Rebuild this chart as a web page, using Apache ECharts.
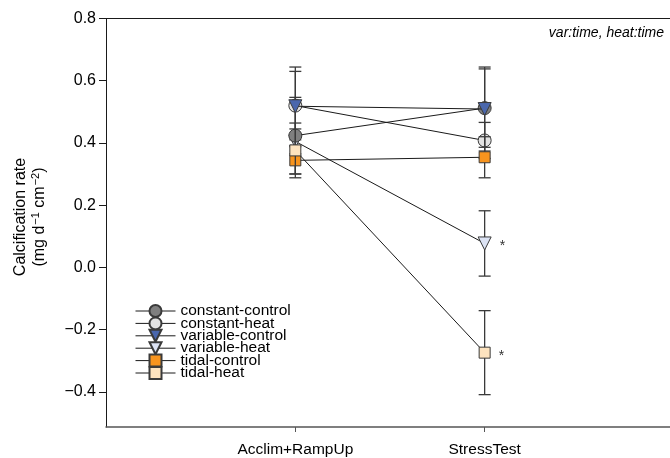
<!DOCTYPE html>
<html><head><meta charset="utf-8">
<script src="https://cdn.jsdelivr.net/npm/echarts@6/dist/echarts.min.js"></script>
<style>html,body{margin:0;padding:0;background:#fff}#c{width:670px;height:458px}</style>
</head><body><div id="c"></div>
<script>
// ---- data ----
const categories = ['Acclim+RampUp', 'StressTest'];
const seriesNames = ['constant-control', 'constant-heat', 'variable-control', 'variable-heat', 'tidal-control', 'tidal-heat'];
const constantControl = [0.4235, 0.512];
const constantHeat = [0.52, 0.408];
const variableControl = [0.518, 0.509];
const variableHeat = [0.405, 0.077];
const tidalControl = [0.344, 0.354];
const tidalHeat = [0.376, -0.274];
const errConstantControl = [0.123, 0.126];
const errConstantHeat = [0.11, 0.058];
const errVariableControl = [0.126, 0.135];
const errVariableHeat = [0.04, 0.105];
const errTidalControl = [0.044, 0.066];
const errTidalHeat = [0.088, 0.135];
const sigVariableHeat = ['', '*'];
const sigTidalHeat = ['', '*'];
const yTicks = [-0.4, -0.2, 0.0, 0.2, 0.4, 0.6, 0.8];
const annotation = 'var:time, heat:time';

// ---- build ----
const FONT = '"Liberation Sans", Arial, sans-serif';
const values = [constantControl, constantHeat, variableControl, variableHeat, tidalControl, tidalHeat];
const errors = [errConstantControl, errConstantHeat, errVariableControl, errVariableHeat, errTidalControl, errTidalHeat];
const sigs = [null, null, null, sigVariableHeat, null, sigTidalHeat];
const fills = ['#7f7f7f', '#e2e2e2', '#4a67ad', '#dce3f4', '#f7941e', '#fde3bf'];
const symbols = ['circle', 'circle', 'triangle', 'triangle', 'rect', 'rect'];
const rotates = [0, 0, 180, 180, 0, 0];
const sizes = [13, 13, 13, 13, 11, 11];
const drawOrder = [3, 1, 4, 2, 5, 6];

const lineSeries = seriesNames.map((name, s) => ({
  name, type: 'line', z: 2 * drawOrder[s] + 1,
  data: values[s].map((v, i) => [i + 1, v]),
  symbol: symbols[s], symbolSize: sizes[s], symbolRotate: rotates[s],
  showAllSymbol: true,
  lineStyle: { color: '#1a1a1a', width: 1 },
  itemStyle: { color: fills[s], borderColor: '#3a3a3a', borderWidth: 1, opacity: 1 },
  emphasis: { disabled: true },
  label: sigs[s] ? {
    show: true, position: 'right', distance: 8, offset: [0, 3],
    formatter: p => sigs[s][p.dataIndex], fontSize: 14, color: '#333', fontFamily: FONT
  } : { show: false },
  animation: false
}));

const errSeries = seriesNames.map((name, s) => ({
  type: 'custom', z: 2 * drawOrder[s], silent: true, animation: false,
  data: values[s].map((v, i) => [i + 1, v - errors[s][i], v + errors[s][i]]),
  renderItem: (params, api) => {
    const x = api.value(0);
    const lo = api.coord([x, api.value(1)]);
    const hi = api.coord([x, api.value(2)]);
    const w = 6;
    const st = { stroke: '#3a3a3a', lineWidth: 1.3 };
    return { type: 'group', children: [
      { type: 'line', shape: { x1: lo[0], y1: lo[1], x2: hi[0], y2: hi[1] }, style: st },
      { type: 'line', shape: { x1: lo[0] - w, y1: lo[1], x2: lo[0] + w, y2: lo[1] }, style: st },
      { type: 'line', shape: { x1: hi[0] - w, y1: hi[1], x2: hi[0] + w, y2: hi[1] }, style: st }
    ]};
  }
}));

const XMAX = 2.979;
const option = {
  animation: false,
  backgroundColor: '#fff',
  textStyle: { fontFamily: FONT },
  grid: { left: 106, top: 18.5, right: 0, bottom: 30.3, show: false },
  xAxis: [{
    type: 'value', min: 0, max: XMAX,
    splitLine: { show: false },
    axisLine: { show: true, onZero: false, lineStyle: { color: '#555', width: 1.5 } },
    axisTick: { show: true, length: 5, customValues: [1, 2], lineStyle: { color: '#555' } },
    axisLabel: { customValues: [1, 2], formatter: v => categories[v - 1] || '', fontSize: 15.5, color: '#000', margin: 15, fontFamily: FONT }
  }, {
    type: 'value', min: 0, max: XMAX, position: 'top',
    splitLine: { show: false },
    axisLine: { show: true, onZero: false, lineStyle: { color: '#1a1a1a', width: 1 } },
    axisTick: { show: false }, axisLabel: { show: false }
  }],
  yAxis: {
    type: 'value', min: -0.513, max: 0.8,
    splitLine: { show: false },
    axisLine: { show: true, onZero: false, lineStyle: { color: '#1a1a1a', width: 1 } },
    axisTick: { show: true, length: 7, customValues: yTicks, lineStyle: { color: '#1a1a1a' } },
    axisLabel: { customValues: yTicks, formatter: v => (v < 0 ? '\u2212' : '') + Math.abs(v).toFixed(1), fontSize: 16, color: '#000', margin: 10, fontFamily: FONT }
  },
  legend: {
    orient: 'vertical', left: 135, top: 303, padding: 0,
    itemWidth: 40, itemHeight: 15, itemGap: -3.6,
    data: seriesNames,
    lineStyle: { width: 1, color: '#1a1a1a' },
    textStyle: { fontSize: 15.5, color: '#000', fontFamily: FONT, lineHeight: 12 },
    selectedMode: false
  },
  graphic: [
    { type: 'text', x: 21, y: 217, rotation: Math.PI / 2,
      style: { text: 'Calcification rate', font: '16px ' + FONT, fill: '#000', align: 'center', verticalAlign: 'middle' } },
    { type: 'text', x: 40, y: 217, rotation: Math.PI / 2,
      style: { text: '{n|(mg d}{s|\u22121}{n| cm}{s|\u22122}{n|)}', align: 'center', verticalAlign: 'middle',
        rich: { n: { fontSize: 16, fontFamily: FONT, fill: '#000', lineHeight: 20 }, s: { fontSize: 11, fontFamily: FONT, fill: '#000', verticalAlign: 'top', lineHeight: 11, padding: [0, 0, 0, 1] } } } },
    { type: 'text', right: 6, top: 26,
      style: { text: annotation, font: 'italic 14px ' + FONT, fill: '#000' } }
  ],
  series: [...errSeries, ...lineSeries]
};
const chart = echarts.init(document.getElementById('c'), null, { renderer: 'canvas' });
chart.setOption(option);
</script></body></html>
